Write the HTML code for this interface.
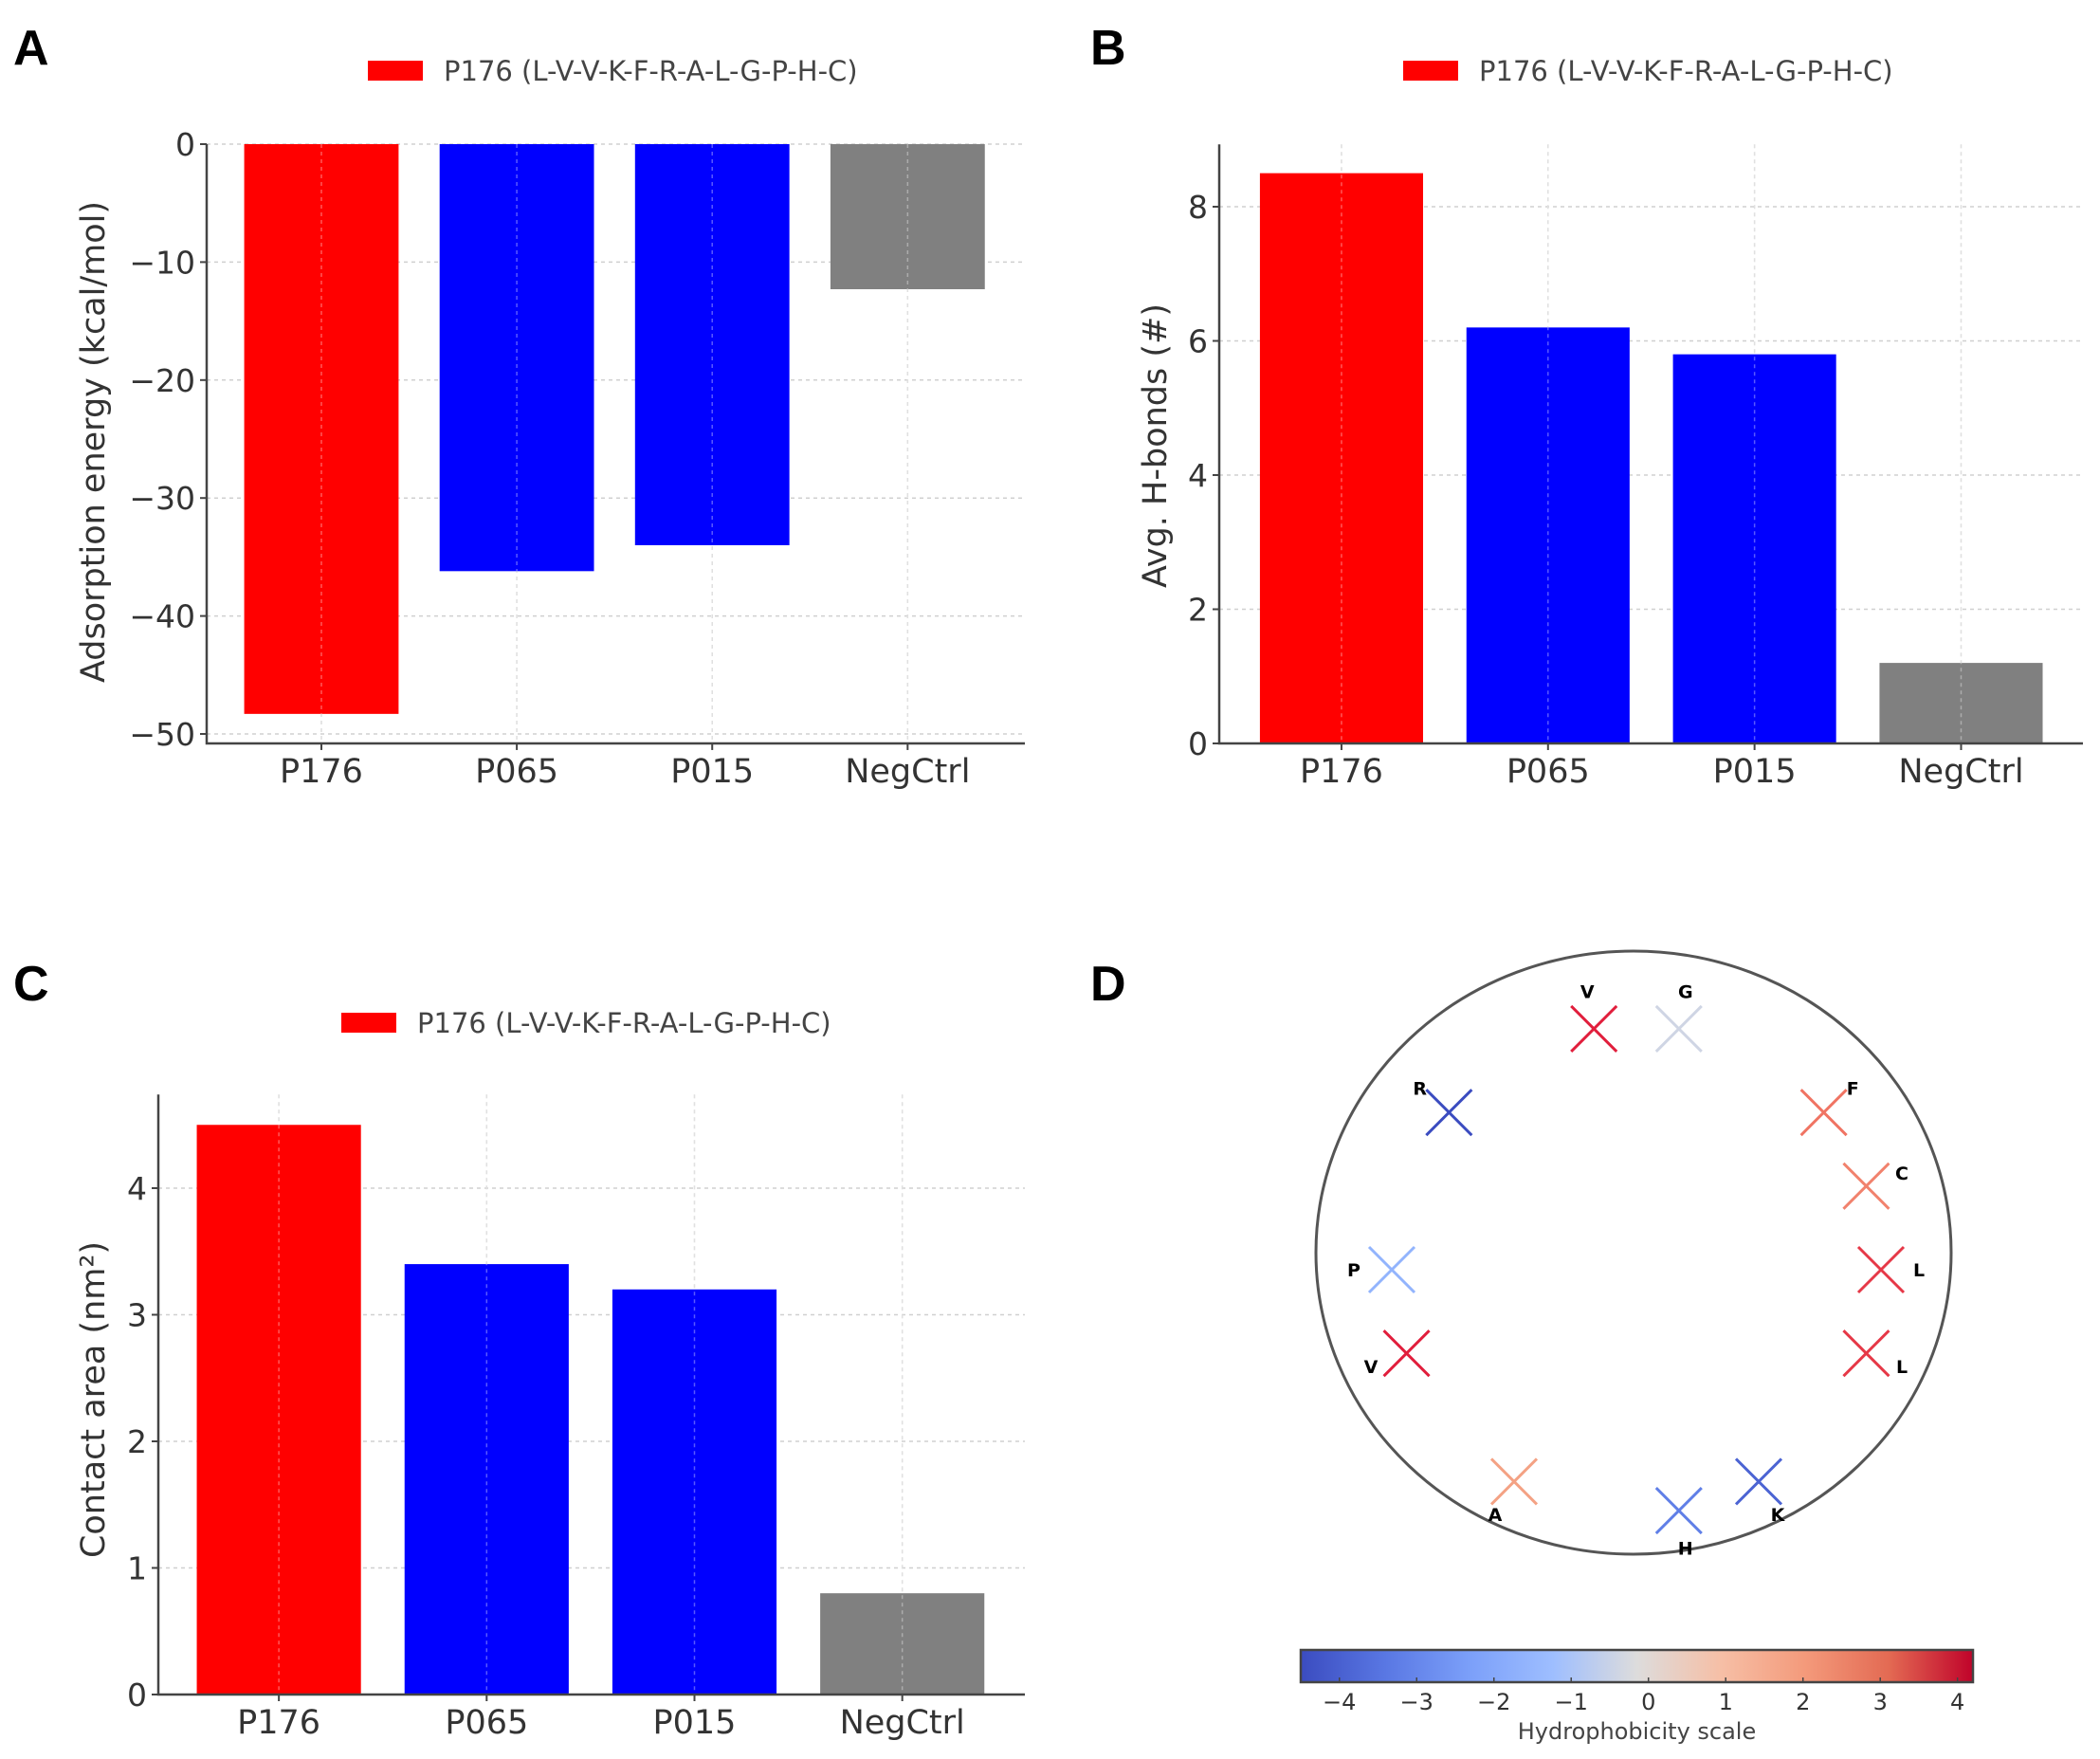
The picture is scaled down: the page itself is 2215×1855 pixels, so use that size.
<!DOCTYPE html>
<html><head><meta charset="utf-8"><style>
html,body{margin:0;padding:0;background:#fff}
svg{display:block;font-family:"DejaVu Sans","Liberation Sans",sans-serif}
</style></head><body>
<svg id="fig" width="2215" height="1855" viewBox="0 0 2215 1855" xmlns="http://www.w3.org/2000/svg">
<defs>
<linearGradient id="cw" x1="0" x2="1" y1="0" y2="0">
<stop offset="0" stop-color="#3b4cc0"/><stop offset="0.125" stop-color="#5977e3"/><stop offset="0.25" stop-color="#7b9ff9"/><stop offset="0.375" stop-color="#9ebeff"/><stop offset="0.5" stop-color="#dddcdc"/><stop offset="0.625" stop-color="#f6bfa6"/><stop offset="0.75" stop-color="#f49a7b"/><stop offset="0.875" stop-color="#e36a53"/><stop offset="1" stop-color="#c0032a"/>
</linearGradient>
</defs>
</svg>
<script>
const categories = ["P176","P065","P015","NegCtrl"];
const energyValues = [-48.3, -36.2, -34.0, -12.3];
const energyTicks = [0,-10,-20,-30,-40,-50];
const hbondValues = [8.5, 6.2, 5.8, 1.2];
const hbondTicks = [0,2,4,6,8];
const areaValues = [4.5, 3.4, 3.2, 0.8];
const areaTicks = [0,1,2,3,4];
const residues = ["L","V","V","K","F","R","A","L","G","P","H","C"];
const hydro = [3.8, 4.2, 4.2, -3.9, 2.8, -4.5, 1.8, 3.8, -0.4, -1.6, -3.2, 2.5];
const cbTicks = [-4,-3,-2,-1,0,1,2,3,4];
const barColors = ["#ff0000","#0000ff","#0000ff","#808080"];
const NS = "http://www.w3.org/2000/svg";
const svg = document.getElementById('fig');
function mk(tag, attrs, parent, text){
  const e = document.createElementNS(NS, tag);
  for (const k in attrs) e.setAttribute(k, attrs[k]);
  if (text !== undefined) e.textContent = text;
  (parent || svg).appendChild(e);
  return e;
}
function fmt(v){ return v < 0 ? "\u2212" + Math.abs(v) : String(v); }

function barPanel(cfg){
  const g = mk('g', {});
  
  
  const sx = i => cfg.left + (i - cfg.xmin) / (cfg.xmax - cfg.xmin) * (cfg.right - cfg.left);
  const sy = v => cfg.yAt0 + (v - 0) * (cfg.yAtRef - cfg.yAt0) / cfg.refVal;
  const bottom = sy(cfg.ymin), top = sy(cfg.ymax);
  cfg.ticks.forEach(t => {
    const l = mk('line', {x1: cfg.left, x2: cfg.right, y1: sy(t), y2: sy(t), stroke: '#d0d0d0', 'stroke-width': 1.5, 'stroke-dasharray': '4,4'}, g);
    
    
  });
  categories.forEach((c, i) => {
    const l = mk('line', {x1: sx(i), x2: sx(i), y1: top, y2: bottom, stroke: '#d0d0d0', 'stroke-width': 1.5, 'stroke-dasharray': '4,4'}, g);
    
    
  });
  cfg.values.forEach((v, i) => {
    const w = 0.79 * (sx(1) - sx(0));
    const y1 = sy(Math.max(0, v)), y2 = sy(Math.min(0, v));
    const r = mk('rect', {x: sx(i) - w/2, y: y1, width: w, height: y2 - y1, fill: barColors[i]}, g);
    
    
  });
  categories.forEach((c, i) => {
    mk('line', {x1: sx(i), x2: sx(i), y1: top, y2: bottom, stroke: 'rgba(255,255,255,0.35)', 'stroke-width': 1.5, 'stroke-dasharray': '4,4'}, g);
  });
  const sp = mk('path', {d: `M${cfg.left},${top} L${cfg.left},${bottom} L${cfg.right},${bottom}`, fill: 'none', stroke: '#444', 'stroke-width': 2.5}, g);
  
  
  cfg.ticks.forEach(t => {
    mk('line', {x1: cfg.left - 7, x2: cfg.left, y1: sy(t), y2: sy(t), stroke: '#444', 'stroke-width': 2}, g);
    const tx = mk('text', {x: cfg.left - 12, y: sy(t) + 12, 'text-anchor': 'end', 'font-size': 33, fill: '#333'}, g, fmt(t));
    
    
  });
  categories.forEach((c, i) => {
    mk('line', {x1: sx(i), x2: sx(i), y1: bottom, y2: bottom + 7, stroke: '#444', 'stroke-width': 2}, g);
    const tx = mk('text', {x: sx(i), y: bottom + 41, 'text-anchor': 'middle', 'font-size': 35, fill: '#333'}, g, c);
    
    
  });
  const yl = mk('text', {x: cfg.ylabX, y: cfg.ylabY, 'text-anchor': 'middle', 'font-size': 35, fill: '#333', transform: `rotate(-90 ${cfg.ylabX} ${cfg.ylabY})`}, g, cfg.ylabel);
  
  
  const lp = mk('rect', {x: cfg.legX, y: cfg.legY - 10, width: 58, height: 21, fill: '#ff0000'}, g);
  
  
  const lt = mk('text', {x: cfg.legX + 80, y: cfg.legY + 11, 'font-size': 29, fill: '#444'}, g, 'P176 (L-V-V-K-F-R-A-L-G-P-H-C)');
  
  
  const pl = mk('text', {x: cfg.lblX, y: cfg.lblY, 'font-size': 52, 'font-weight': 'bold', fill: '#000', 'font-family': 'Liberation Sans, sans-serif'}, g, cfg.letter);
  
  
}

barPanel({name:'panel-a-adsorption-chart', values: energyValues, ticks: energyTicks, left:218, right:1081, xmin:-0.587, xmax:3.6,
  yAt0:152, yAtRef:774, refVal:-50, ymin:-50.8, ymax:0, ylabel:'Adsorption energy (kcal/mol)', ylabX:110, ylabY:466,
  legX:388, legY:74, lblX:14, lblY:68, letter:'A'});
barPanel({name:'panel-b-hbonds-chart', values: hbondValues, ticks: hbondTicks, left:1286, right:2197, xmin:-0.592, xmax:3.59,
  yAt0:784, yAtRef:218, refVal:8, ymin:0, ymax:8.93, ylabel:'Avg. H-bonds (#)', ylabX:1230, ylabY:470,
  legX:1480, legY:74, lblX:1150, lblY:68, letter:'B'});
barPanel({name:'panel-c-contact-area-chart', values: areaValues, ticks: areaTicks, left:167, right:1081, xmin:-0.58, xmax:3.59,
  yAt0:1787, yAtRef:1253, refVal:4, ymin:0, ymax:4.74, ylabel:'Contact area (nm\u00b2)', ylabX:110, ylabY:1476,
  legX:360, legY:1078, lblX:14, lblY:1055, letter:'C'});

const cmin = -4.5, cmax = 4.2;
const stops = [[0,[59,76,192]],[0.125,[89,119,227]],[0.25,[123,159,249]],[0.375,[158,190,255]],[0.5,[221,220,220]],[0.625,[246,191,166]],[0.75,[244,154,123]],[0.875,[238,100,90]],[1,[225,30,60]]];
function cmap(v){
  let t = Math.max(0, Math.min(1, (v - cmin) / (cmax - cmin)));
  for (let i = 1; i < stops.length; i++){
    if (t <= stops[i][0]){
      const a = stops[i-1], b = stops[i], f = (t - a[0]) / (b[0] - a[0]);
      return 'rgb(' + a[1].map((c, k) => Math.round(c + (b[1][k] - c) * f)).join(',') + ')';
    }
  }
  return 'rgb(225,30,60)';
}
const gd = mk('g', {});


const wc = {x: 1726, y: 1339, r: 258, lr: 298};
const circ = mk('ellipse', {cx: 1723, cy: 1321, rx: 335, ry: 318, fill: 'none', stroke: '#555', 'stroke-width': 3}, gd);


residues.forEach((res, i) => {
  const ang = (i * 100) * Math.PI / 180;
  const x = wc.x + wc.r * Math.cos(ang), y = wc.y - wc.r * Math.sin(ang);
  const s = 24, col = cmap(hydro[i]);
  const m = mk('path', {d: `M${x-s},${y-s} L${x+s},${y+s} M${x-s},${y+s} L${x+s},${y-s}`, stroke: col, 'stroke-width': 3, fill: 'none'}, gd);
  
  
  const lx = wc.x + wc.lr * Math.cos(ang), ly = wc.y - wc.lr * Math.sin(ang);
  const t = mk('text', {x: lx, y: ly + 7, 'text-anchor': 'middle', 'font-size': 19, 'font-weight': 'bold', fill: '#000'}, gd, res);
  
  
});
const cb = {left: 1372, right: 2081, top: 1740, bottom: 1774};
const cx = v => cb.left + (v - cmin) / (cmax - cmin) * (cb.right - cb.left);
const cbr = mk('rect', {x: cb.left, y: cb.top, width: cb.right - cb.left, height: cb.bottom - cb.top, fill: 'url(#cw)', stroke: '#444', 'stroke-width': 2.5}, gd);


cbTicks.forEach(t => {
  mk('line', {x1: cx(t), x2: cx(t), y1: cb.bottom - 5, y2: cb.bottom, stroke: '#444', 'stroke-width': 1.5}, gd);
  const tx = mk('text', {x: cx(t), y: cb.bottom + 29, 'text-anchor': 'middle', 'font-size': 24, fill: '#333'}, gd, fmt(t));
  
  
});
const cbt = mk('text', {x: (cb.left + cb.right) / 2, y: 1834, 'text-anchor': 'middle', 'font-size': 24, fill: '#444'}, gd, 'Hydrophobicity scale');


const pd = mk('text', {x: 1150, y: 1055, 'font-size': 52, 'font-weight': 'bold', fill: '#000', 'font-family': 'Liberation Sans, sans-serif'}, gd, 'D');


</script>
</body></html>
